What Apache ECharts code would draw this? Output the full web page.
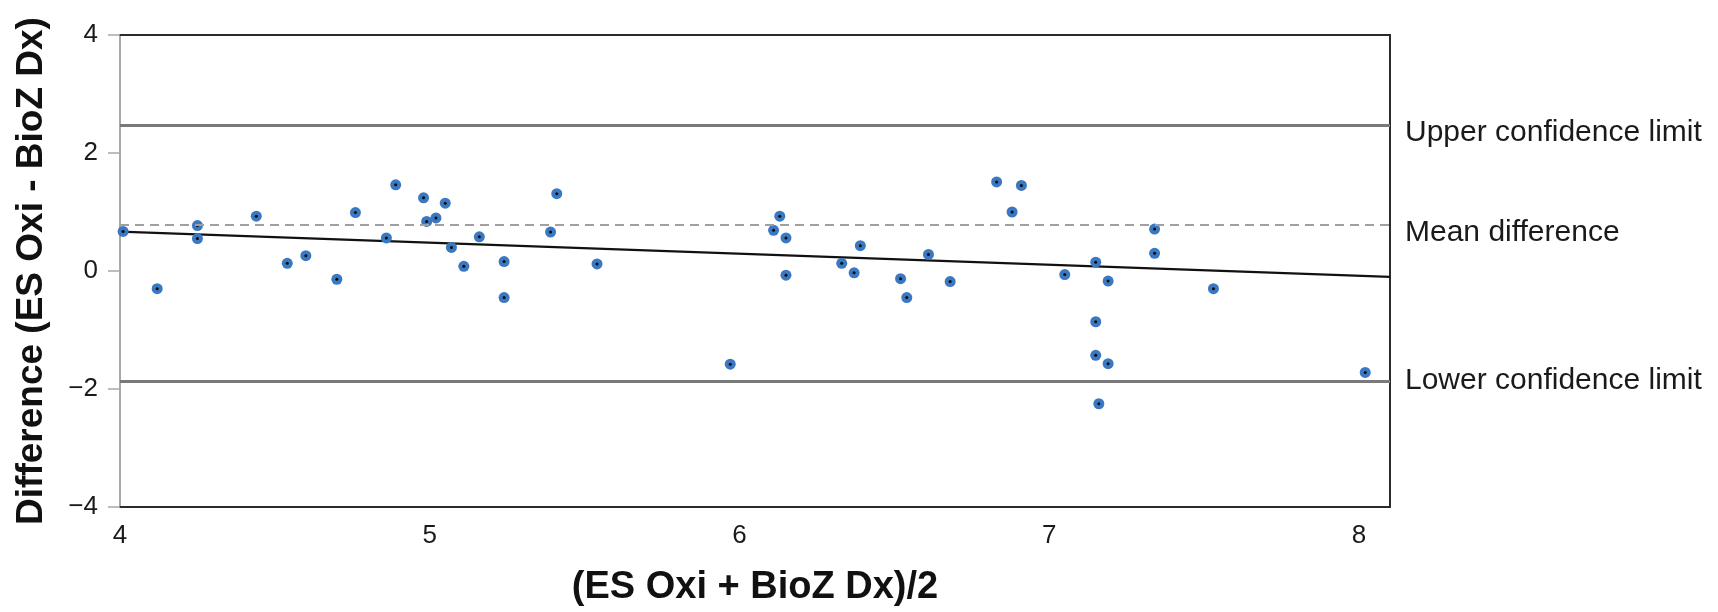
<!DOCTYPE html>
<html>
<head>
<meta charset="utf-8">
<title>Bland-Altman plot</title>
<script src="https://cdn.jsdelivr.net/npm/echarts@6/dist/echarts.min.js"></script>
<style>
  html, body { margin: 0; padding: 0; background: #fff; }
  #chart { width: 1718px; height: 612px; }
</style>
</head>
<body>
<div id="chart"></div>
<script>
// mean of the two methods (x) and their difference (y)
var meanValues = [
  4.01, 4.12, 4.25, 4.25, 4.44, 4.54, 4.60, 4.70, 4.76, 4.89,
  4.86, 4.98, 5.05, 4.99, 5.02, 5.07, 5.11, 5.16, 5.24, 5.24,
  5.39, 5.41, 5.54, 5.97, 6.11, 6.13, 6.15, 6.15, 6.33, 6.37,
  6.39, 6.52, 6.54, 6.61, 6.68, 6.83, 6.91, 6.88, 7.05, 7.15,
  7.19, 7.34, 7.34, 7.53, 7.15, 7.15, 7.19, 7.16, 8.02
];
var diffValues = [
  0.67, -0.30, 0.77, 0.55, 0.93, 0.13, 0.26, -0.14, 0.99, 1.46,
  0.56, 1.24, 1.15, 0.84, 0.90, 0.40, 0.08, 0.58, 0.16, -0.45,
  0.66, 1.31, 0.12, -1.58, 0.69, 0.93, 0.56, -0.07, 0.13, -0.03,
  0.43, -0.13, -0.45, 0.28, -0.18, 1.51, 1.45, 1.00, -0.06, 0.15,
  -0.17, 0.71, 0.30, -0.30, -0.86, -1.43, -1.57, -2.25, -1.72
];

// reference lines
var upperLimit = 2.47;
var meanDiff = 0.78;
var lowerLimit = -1.87;

// regression line end points
var trendX = [4, 8.1];
var trendY = [0.668, -0.098];

var xTicks = [4, 5, 6, 7, 8];
var yTicks = [-4, -2, 0, 2, 4];

var points = meanValues.map(function (x, i) { return [x, diffValues[i]]; });
var trend = trendX.map(function (x, i) { return [x, trendY[i]]; });

var font = '"Liberation Sans", Arial, Helvetica, sans-serif';
var dark = '#2b2b2b';

function minus(v) {
  return v < 0 ? '\u2212' + Math.abs(v) : String(v);
}

function refLabel(text, down) {
  return {
    show: true,
    position: 'end',
    distance: 15,
    formatter: text,
    color: '#1a1a1a',
    fontFamily: font,
    fontSize: 30,
    offset: [0, down]
  };
}

var chart = echarts.init(document.getElementById('chart'));

chart.setOption({
  animation: false,
  grid: { left: 120, right: 328, top: 35, bottom: 105 },
  xAxis: [{
    type: 'value',
    min: xTicks[0],
    max: 8.1,
    interval: 1,
    name: '(ES Oxi + BioZ Dx)/2',
    nameLocation: 'middle',
    nameGap: 62,
    nameTextStyle: { fontFamily: font, fontSize: 38, fontWeight: 'bold', color: '#111' },
    axisLine: { show: true, onZero: false, lineStyle: { color: dark, width: 2 } },
    axisTick: { show: false },
    axisLabel: {
      margin: 16, fontFamily: font, fontSize: 26, color: '#1a1a1a',
      showMaxLabel: false,
      formatter: function (v) { return xTicks.indexOf(v) >= 0 ? String(v) : ''; }
    },
    splitLine: { show: false }
  }, {
    type: 'value',
    position: 'top',
    min: xTicks[0],
    max: 8.1,
    interval: 1,
    axisLine: { show: true, onZero: false, lineStyle: { color: dark, width: 2 } },
    axisTick: { show: false },
    axisLabel: { show: false },
    splitLine: { show: false }
  }],
  yAxis: [{
    type: 'value',
    min: yTicks[0],
    max: yTicks[yTicks.length - 1],
    interval: 2,
    name: 'Difference (ES Oxi - BioZ Dx)',
    nameLocation: 'middle',
    nameGap: 70,
    nameTextStyle: { fontFamily: font, fontSize: 37, fontWeight: 'bold', color: '#111' },
    axisLine: { show: true, onZero: false, lineStyle: { color: '#a8a8a8', width: 2 } },
    axisTick: { show: true, length: 12, lineStyle: { color: '#a8a8a8', width: 1.5 } },
    axisLabel: {
      margin: 22, fontFamily: font, fontSize: 26, color: '#1a1a1a',
      formatter: minus
    },
    splitLine: { show: false }
  }, {
    type: 'value',
    position: 'right',
    min: yTicks[0],
    max: yTicks[yTicks.length - 1],
    interval: 2,
    axisLine: { show: true, onZero: false, lineStyle: { color: dark, width: 2 } },
    axisTick: { show: false },
    axisLabel: { show: false },
    splitLine: { show: false }
  }],
  series: [{
    type: 'line',
    data: trend,
    symbol: 'none',
    lineStyle: { color: '#111', width: 2.2 },
    silent: true,
    z: 2,
    markLine: {
      silent: true,
      symbol: 'none',
      data: [
        { yAxis: upperLimit, lineStyle: { color: '#7a7a7a', width: 3, type: 'solid' }, label: refLabel('Upper confidence limit', 7) },
        { yAxis: meanDiff, lineStyle: { color: '#a0a0a0', width: 2, type: [9, 6] }, label: refLabel('Mean difference', 8) },
        { yAxis: lowerLimit, lineStyle: { color: '#7a7a7a', width: 3, type: 'solid' }, label: refLabel('Lower confidence limit', -1) }
      ]
    }
  }, {
    type: 'scatter',
    data: points,
    symbol: 'circle',
    symbolSize: 11,
    clip: false,
    itemStyle: { color: '#3a78c2', opacity: 1 },
    z: 3
  }, {
    type: 'scatter',
    data: points,
    symbol: 'circle',
    symbolSize: 3,
    clip: false,
    itemStyle: { color: '#0a0a0a', opacity: 1 },
    z: 4
  }]
});
</script>
</body>
</html>
